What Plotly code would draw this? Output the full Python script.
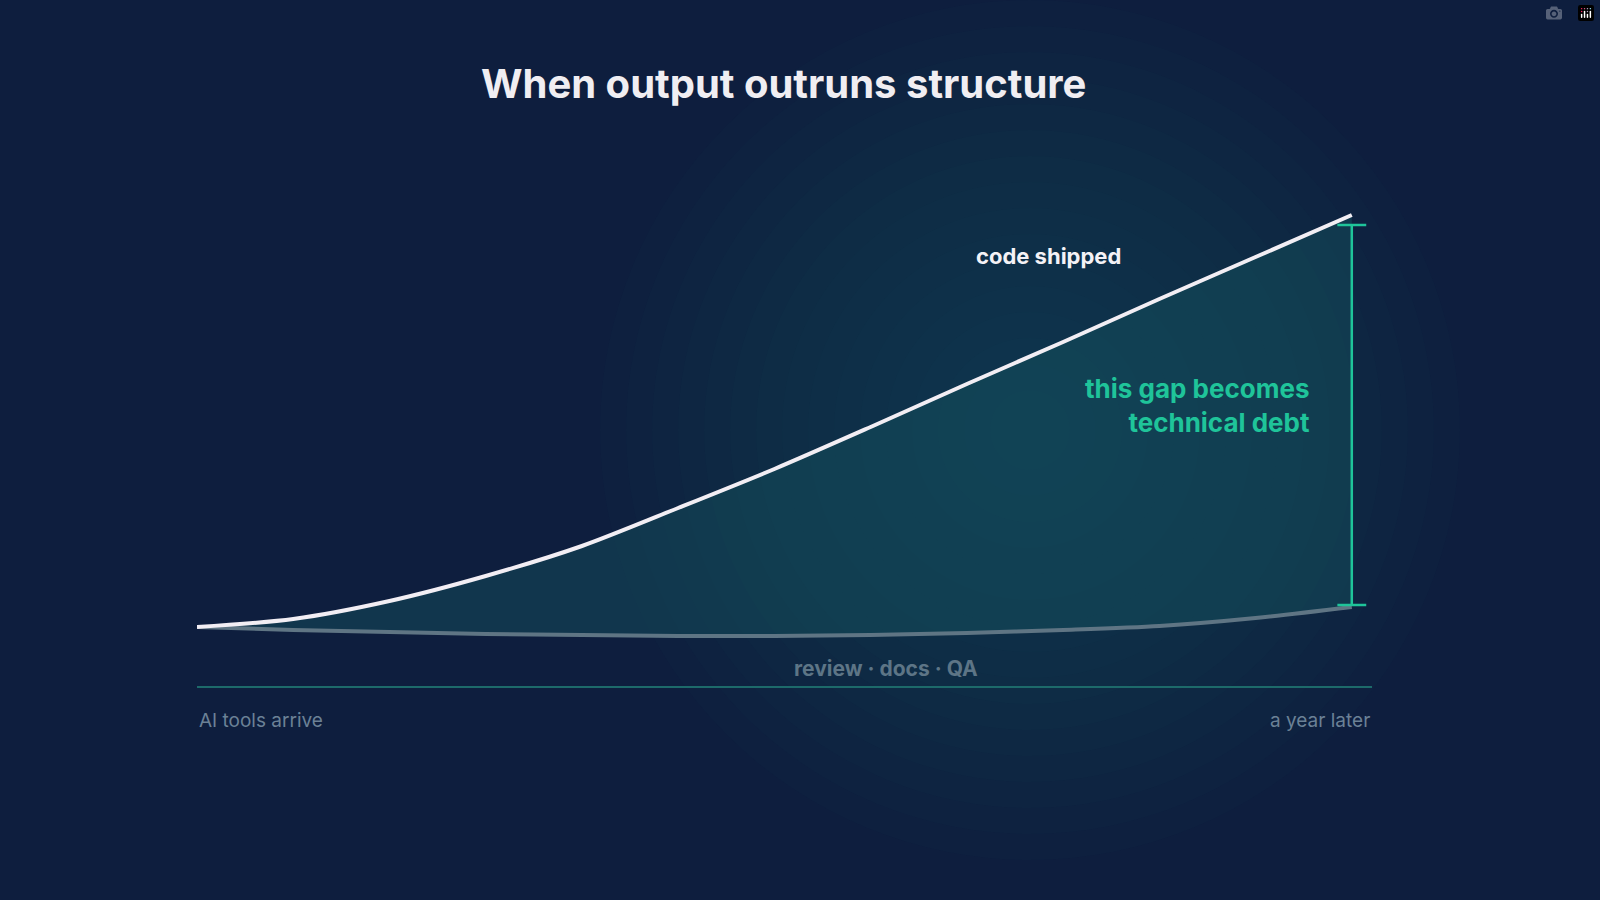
import plotly.graph_objects as go

months = list(range(13))
code_shipped = [0, 8, 26, 51, 81, 119, 158, 200, 243, 285, 328, 370, 412]
review_docs_qa = [0, -3, -5, -7, -8, -9, -9, -8, -6, -3, 1, 9, 20]

title = "When output outruns structure"
label_code = "code shipped"
label_review = "review · docs · QA"
label_gap = "this gap becomes<br>technical debt"
x_start, x_end = "AI tools arrive", "a year later"

L, R, T, B = 197, 1372, 150, 686
def pxx(p): return (p - L) / (R - L)
def pxy(p): return (B - p) / (B - T)

fig = go.Figure()
fig.add_trace(go.Scatter(x=months, y=review_docs_qa, mode="lines",
                         line=dict(color="#5f7584", width=4, shape="spline", smoothing=0.8), hoverinfo="skip"))
fig.add_trace(go.Scatter(x=months, y=code_shipped, mode="lines", fill="tonexty",
                         fillcolor="rgba(22,85,95,0.45)",
                         line=dict(color="#f2eef4", width=4, shape="spline", smoothing=0.8), hoverinfo="skip"))

shapes = []
cx, cy = 1030, 430
for i in range(16):
    r = 430 - i * 26
    shapes.append(dict(type="circle", xref="paper", yref="paper", layer="below",
                       x0=pxx(cx - r), x1=pxx(cx + r), y0=pxy(cy + r), y1=pxy(cy - r),
                       fillcolor="rgba(30,130,135,0.022)", line=dict(width=0)))
g = "#1fc49a"
top, bot = code_shipped[-1] - 10, review_docs_qa[-1] + 2
shapes.append(dict(type="line", xref="x", yref="y", x0=12, x1=12, y0=bot, y1=top, line=dict(color=g, width=2.5)))
for yy in (top, bot):
    shapes.append(dict(type="line", xref="x", yref="y", x0=11.85, x1=12.15, y0=yy, y1=yy, line=dict(color=g, width=2.5)))

ann = [
    dict(text=f"<b>{title}</b>", x=783, y=83, size=40, color="#f0eef2", anchor="center"),
    dict(text=f"<b>{label_code}</b>", x=1048, y=256, size=22, color="#f4f2f6", anchor="center"),
    dict(text=f"<b>{label_review}</b>", x=886, y=668, size=21, color="#5d7586", anchor="center"),
    dict(text=f"<b>{label_gap}</b>", x=1312, y=405, size=26, color=g, anchor="right"),
    dict(text=x_start, x=197, y=720, size=19, color="#6b8196", anchor="left"),
    dict(text=x_end, x=1372, y=720, size=19, color="#6b8196", anchor="right"),
]
annotations = [dict(text=a["text"], xref="paper", yref="paper",
                    x=pxx(a["x"]), y=pxy(a["y"]), xanchor=a["anchor"], yanchor="middle",
                    showarrow=False, align=a["anchor"] if a["anchor"] != "center" else "center",
                    font=dict(size=a["size"], color=a["color"], family="Inter")) for a in ann]

fig.update_layout(
    width=1600, height=900, paper_bgcolor="#0e1e3e", plot_bgcolor="rgba(0,0,0,0)",
    margin=dict(l=L, r=1600 - R, t=T, b=900 - B), showlegend=False,
    xaxis=dict(range=[0, 12.21], showgrid=False, zeroline=False, showticklabels=False,
               showline=True, linecolor="#1d6a6a", linewidth=1.5, fixedrange=True),
    yaxis=dict(range=[-59, 477], visible=False, fixedrange=True),
    shapes=shapes, annotations=annotations, font=dict(family="Inter"),
)
fig.write_html("out.html", post_script="document.body.style.margin='0';document.body.style.background='#0e1e3e';")
